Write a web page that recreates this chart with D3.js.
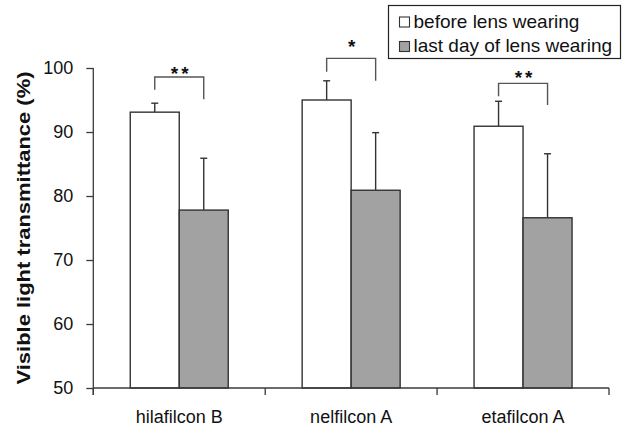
<!DOCTYPE html>
<html lang="en">
	<head>
		<meta charset="utf-8">
		<title>Visible light transmittance</title>
		<script src="https://cdnjs.cloudflare.com/ajax/libs/d3/7.8.5/d3.min.js"></script>
		<style type="text/css">
			body { margin: 0; background: #fff; }
			text { font-family: "Liberation Sans", Arial, sans-serif; fill: #111; }
			.axis path, .axis line { stroke: #3a3a3a; stroke-width: 1.3; }
		</style>
	</head>
	<body>
		<div id="container"></div>
		<script type="text/javascript">

			// data
			var lenses = ["hilafilcon B", "nelfilcon A", "etafilcon A"];
			var seriesNames = ["before lens wearing", "last day of lens wearing"];
			var beforeMean = [93.1, 95.0, 90.9];
			var beforeSD = [1.4, 3.0, 3.9];
			var lastMean = [77.8, 80.9, 76.6];
			var lastSD = [8.1, 9.0, 10.0];
			var yTicks = [50, 60, 70, 80, 90, 100];

			// significance brackets (in % units): top, left leg end, right leg end, star level
			var sigMarks = ["**", "*", "**"];
			var sigTop = [98.6, 101.5, 97.6];
			var sigLeftEnd = [96.6, 99.4, 95.6];
			var sigRightEnd = [95.1, 98.0, 94.2];
			var sigStarLevel = [99.8, 104.0, 99.2];

			var width = 626;
			var height = 428;
			var fills = ["#ffffff", "#a2a2a2"];

			var svg = d3.select("div#container")
				.append("svg")
				.attr("width", width)
				.attr("height", height);

			var x0 = d3.scaleBand()
				.domain(lenses)
				.range([93.3, 609])
				.paddingInner(0.43)
				.paddingOuter(0.215);

			var x1 = d3.scaleBand()
				.domain(seriesNames)
				.range([0, x0.bandwidth()]);

			var y = d3.scaleLinear()
				.domain([50, 100])
				.range([388, 68]);

			var rows = lenses.map(function(d, i) {
				return {
					lens: d,
					values: [
						{ key: seriesNames[0], mean: beforeMean[i], sd: beforeSD[i] },
						{ key: seriesNames[1], mean: lastMean[i], sd: lastSD[i] }
					]
				};
			});

			var groups = svg.append("g")
				.selectAll("g")
				.data(rows)
				.enter().append("g")
				.attr("transform", function(d) { return "translate(" + x0(d.lens) + ",0)"; });

			// error bars (upper whisker only), drawn behind bars
			var err = groups.selectAll("g.err")
				.data(function(d) { return d.values; })
				.enter().append("g")
				.attr("class", "err")
				.attr("stroke", "#333")
				.attr("stroke-width", 1.4);

			err.append("line")
				.attr("x1", function(d) { return x1(d.key) + x1.bandwidth() / 2; })
				.attr("x2", function(d) { return x1(d.key) + x1.bandwidth() / 2; })
				.attr("y1", function(d) { return y(d.mean); })
				.attr("y2", function(d) { return y(d.mean + d.sd); });

			err.append("line")
				.attr("x1", function(d) { return x1(d.key) + x1.bandwidth() / 2 - 3.5; })
				.attr("x2", function(d) { return x1(d.key) + x1.bandwidth() / 2 + 3.5; })
				.attr("y1", function(d) { return y(d.mean + d.sd); })
				.attr("y2", function(d) { return y(d.mean + d.sd); });

			groups.selectAll("rect")
				.data(function(d) { return d.values; })
				.enter().append("rect")
				.attr("x", function(d) { return x1(d.key); })
				.attr("y", function(d) { return y(d.mean); })
				.attr("width", x1.bandwidth())
				.attr("height", function(d) { return y(50) - y(d.mean); })
				.attr("fill", function(d, i) { return fills[i]; })
				.attr("stroke", "#333")
				.attr("stroke-width", 1.4);

			// brackets with stars
			var sig = svg.append("g").attr("class", "sig");
			lenses.forEach(function(d, i) {
				var xl = x0(d) + x1(seriesNames[0]) + x1.bandwidth() / 2;
				var xr = x0(d) + x1(seriesNames[1]) + x1.bandwidth() / 2;
				var path = d3.path();
				path.moveTo(xl, y(sigLeftEnd[i]));
				path.lineTo(xl, y(sigTop[i]));
				path.lineTo(xr, y(sigTop[i]));
				path.lineTo(xr, y(sigRightEnd[i]));
				sig.append("path")
					.attr("d", path.toString())
					.attr("fill", "none")
					.attr("stroke", "#555")
					.attr("stroke-width", 1.4);
				sig.append("text")
					.attr("x", (xl + xr) / 2 + 2)
					.attr("y", y(sigStarLevel[i]) + 11)
					.attr("text-anchor", "middle")
					.attr("font-size", "19px")
					.attr("font-weight", "bold")
					.attr("letter-spacing", "3px")
					.text(sigMarks[i]);
			});

			// y axis
			svg.append("g")
				.attr("class", "axis")
				.attr("transform", "translate(93.3,0)")
				.call(d3.axisLeft(y)
					.tickValues(yTicks)
					.tickSize(7)
					.tickPadding(13)
					.tickSizeOuter(0))
				.call(function(g) {
					g.selectAll("text").attr("font-size", "18px").attr("fill", "#111");
					g.select(".domain").attr("d", "M0," + y(100) + "V" + (y(50) + 7));
				});

			// x axis: labels at band centres, ticks at band boundaries
			var xAxis = svg.append("g")
				.attr("class", "axis")
				.attr("transform", "translate(0," + y(50) + ")")
				.call(d3.axisBottom(x0)
					.tickSize(0)
					.tickPadding(22)
					.tickSizeOuter(0));
			xAxis.selectAll("text").attr("font-size", "18px").attr("fill", "#111");

			var gap = x0.step() * x0.paddingInner() / 2;
			var bounds = [x0.range()[0]].concat(lenses.map(function(d) { return x0(d) + x0.bandwidth() + gap; }));
			xAxis.selectAll("line.bound")
				.data(bounds)
				.enter().append("line")
				.attr("class", "bound")
				.attr("x1", function(d) { return d; })
				.attr("x2", function(d) { return d; })
				.attr("y1", 0)
				.attr("y2", 7);
			xAxis.select(".domain").attr("d", "M" + bounds[0] + ",0H" + bounds[bounds.length - 1]);

			// y axis title
			svg.append("text")
				.attr("transform", "translate(30," + ((y(50) + y(100)) / 2) + ") rotate(-90)")
				.attr("text-anchor", "middle")
				.attr("font-size", "19px")
				.attr("font-weight", "bold")
				.attr("textLength", 313)
				.attr("lengthAdjust", "spacingAndGlyphs")
				.text("Visible light transmittance (%)");

			// legend
			var legend = svg.append("g").attr("transform", "translate(388.5,5.5)");
			legend.append("rect")
				.attr("width", 232)
				.attr("height", 53)
				.attr("fill", "#fff")
				.attr("stroke", "#222")
				.attr("stroke-width", 1.2);

			var item = legend.selectAll("g.item")
				.data(seriesNames)
				.enter().append("g")
				.attr("class", "item")
				.attr("transform", function(d, i) { return "translate(11," + (11.5 + i * 24.5) + ")"; });

			item.append("rect")
				.attr("width", 10)
				.attr("height", 10)
				.attr("fill", function(d, i) { return fills[i]; })
				.attr("stroke", "#333")
				.attr("stroke-width", 1.1);

			item.append("text")
				.attr("x", 14)
				.attr("y", 10.5)
				.attr("font-size", "19px")
				.text(function(d) { return d; });
		</script>
	</body>
</html>
